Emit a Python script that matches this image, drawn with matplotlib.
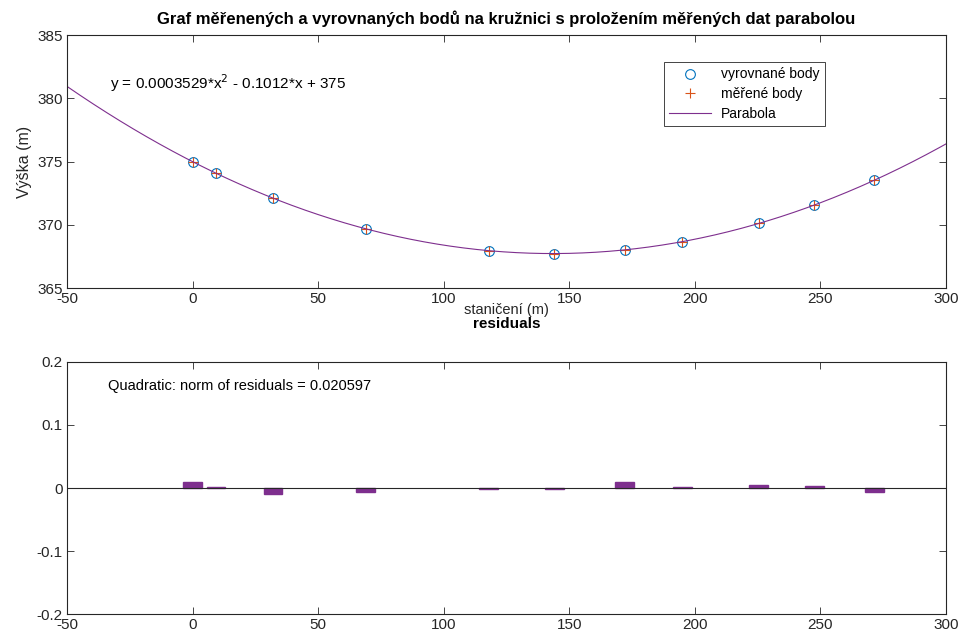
import numpy as np
import matplotlib
matplotlib.use("Agg")
import matplotlib.pyplot as plt

plt.rcParams['font.family'] = ['Liberation Sans', 'DejaVu Sans']
plt.rcParams['axes.unicode_minus'] = False

# Station positions (m)
stationing = [0.0, 9.3, 32.0, 69.0, 118.0, 144.0, 172.0, 195.0, 225.5, 247.5, 271.5]
# Adjusted heights on the circle (m)
adjusted_heights = [375.00, 374.09, 372.12, 369.70, 367.97, 367.74, 368.03, 368.69, 370.12, 371.57, 373.53]
# Measured heights (m)
measured_heights = [375.01, 374.09, 372.11, 369.69, 367.97, 367.74, 368.04, 368.69, 370.12, 371.57, 373.52]
# Residuals of the quadratic fit (m)
residuals = [0.0096, 0.002, -0.010, -0.006, -0.0015, -0.0015, 0.010, 0.002, 0.004, 0.003, -0.007]
# Quadratic fit coefficients
fit_coeffs = [0.0003529, -0.1012, 375.0]

x_ticks = [-50, 0, 50, 100, 150, 200, 250, 300]
top_y_ticks = [365, 370, 375, 380, 385]
bottom_y_ticks = [-0.2, -0.1, 0, 0.1, 0.2]
bottom_y_labels = ['-0.2', '-0.1', '0', '0.1', '0.2']

c_blue = '#0072BD'
c_orange = '#D95319'
c_purple = '#7E2F8E'
axis_col = '#262626'

fig = plt.figure(figsize=(9.6, 6.4), dpi=100)
ax1 = fig.add_axes([0.0698, 0.5495, 0.9156, 0.3958])
ax2 = fig.add_axes([0.0698, 0.0406, 0.9156, 0.3938])

for ax in (ax1, ax2):
    ax.tick_params(direction='in', top=True, right=True, labelsize=11,
                   colors=axis_col, length=5, width=0.6, pad=3)
    for s in ax.spines.values():
        s.set_color(axis_col)
        s.set_linewidth(0.8)
    ax.set_xlim(-50, 300)
    ax.set_xticks(x_ticks)

# Upper panel: points and fitted parabola
xx = np.linspace(-50, 300, 400)
ax1.plot(stationing, adjusted_heights, 'o', mfc='none', mec=c_blue, ms=7, mew=0.8,
         label='vyrovnané body')
ax1.plot(stationing, measured_heights, '+', color=c_orange, ms=7, mew=0.8,
         label='měřené body')
ax1.plot(xx, np.polyval(fit_coeffs, xx), '-', color=c_purple, lw=0.8, label='Parabola')
ax1.set_ylim(365, 385)
ax1.set_yticks(top_y_ticks)
ax1.set_title('Graf měřenených a vyrovnaných bodů na kružnici s proložením měřených dat parabolou',
              fontsize=12, fontweight='bold', pad=8)
ax1.set_xlabel('staničení (m)', fontsize=10.5, color=axis_col, va='center')
ax1.xaxis.set_label_coords(0.5, -0.087)
ax1.set_ylabel('Výška (m)', fontsize=11.5, color=axis_col, labelpad=4)
ax1.text(0.049, 0.81, 'y = %.7f*x$^{2}$ - %.4f*x + %g' % (fit_coeffs[0], -fit_coeffs[1], fit_coeffs[2]),
         transform=ax1.transAxes, fontsize=11, va='center', ha='left')
leg = ax1.legend(loc='upper left', bbox_to_anchor=(0.679, 0.894), borderaxespad=0,
                 fontsize=10, frameon=True, fancybox=False, edgecolor=axis_col, framealpha=1,
                 handlelength=3.0, borderpad=0.4, labelspacing=0.4, handletextpad=0.7)
leg.get_frame().set_linewidth(0.6)

# Lower panel: residuals
ax2.bar(stationing, residuals, width=7.5, color=c_purple, edgecolor=c_purple)
ax2.axhline(0, color=axis_col, lw=0.8)
ax2.set_ylim(-0.2, 0.2)
ax2.set_yticks(bottom_y_ticks)
ax2.set_yticklabels(bottom_y_labels)
ax2.text(0.5, 1.15, 'residuals', transform=ax2.transAxes, fontsize=11,
         fontweight='bold', ha='center', va='center')
norm_res = 0.020597
ax2.text(0.047, 0.905, 'Quadratic: norm of residuals = %g' % norm_res,
         transform=ax2.transAxes, fontsize=10.5, va='center', ha='left')

fig.savefig('out.png', dpi=100)
